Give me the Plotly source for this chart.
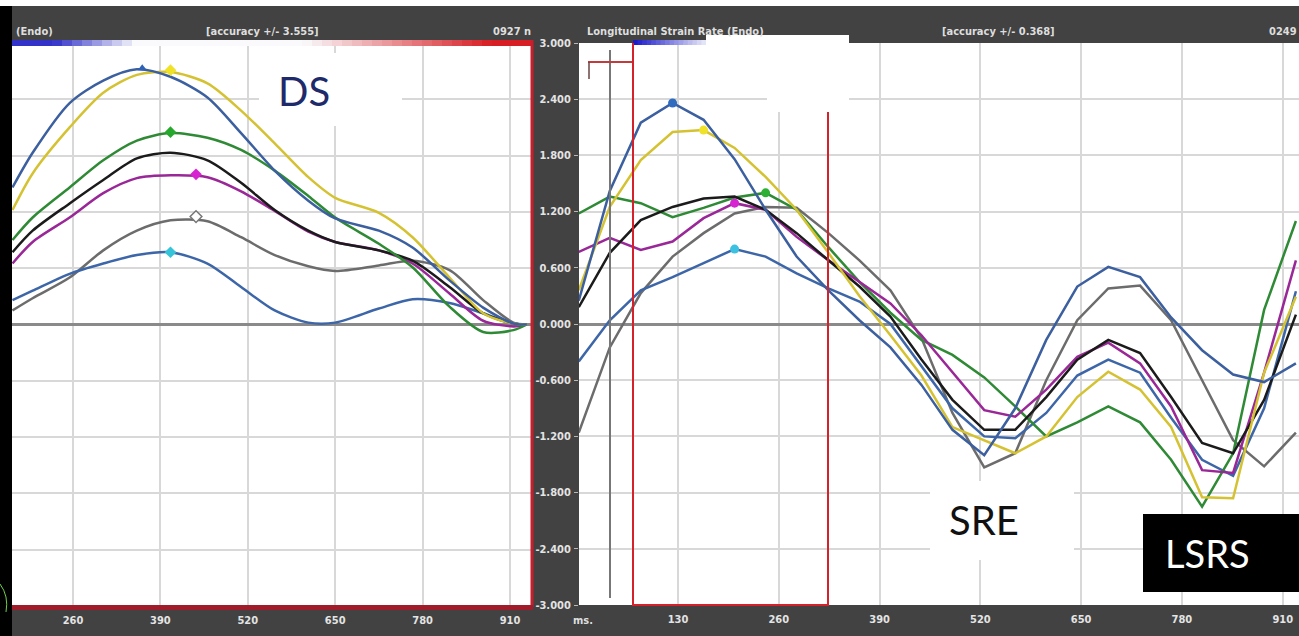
import plotly.graph_objects as go

# ---------------- data ----------------
# Left panel (DS, strain) - time in ms
T_L = [170, 200, 255, 305, 355, 405, 460, 510, 560, 610, 650, 715, 765, 820, 870, 915, 935]
DS_BLUE_TOP = [1.46, 1.83, 2.36, 2.60, 2.72, 2.64, 2.42, 2.04, 1.64, 1.32, 1.13, 1.00, 0.82, 0.47, 0.18, 0.01, 0.0]
DS_YELLOW = [1.22, 1.61, 2.10, 2.47, 2.66, 2.69, 2.57, 2.28, 1.93, 1.57, 1.35, 1.19, 0.93, 0.50, 0.12, 0.01, 0.0]
DS_GREEN = [0.90, 1.14, 1.46, 1.75, 1.96, 2.04, 1.99, 1.86, 1.64, 1.37, 1.14, 0.86, 0.61, 0.19, -0.08, -0.06, 0.0]
DS_BLACK = [0.77, 1.00, 1.29, 1.54, 1.77, 1.83, 1.75, 1.51, 1.22, 1.00, 0.88, 0.79, 0.68, 0.40, 0.12, 0.01, 0.0]
DS_MAGENTA = [0.65, 0.88, 1.14, 1.40, 1.56, 1.59, 1.57, 1.42, 1.21, 0.99, 0.88, 0.79, 0.65, 0.33, 0.04, -0.02, 0.0]
DS_GRAY = [0.15, 0.28, 0.50, 0.79, 1.00, 1.11, 1.10, 0.93, 0.74, 0.62, 0.57, 0.63, 0.68, 0.58, 0.26, 0.02, 0.0]
DS_BLUE_LOW = [0.26, 0.36, 0.54, 0.65, 0.74, 0.77, 0.65, 0.40, 0.15, 0.02, 0.02, 0.17, 0.27, 0.23, 0.12, 0.01, 0.0]
# Left peak markers (time, value)
DS_PEAKS = {
    "blue": (363, 2.73), "yellow": (405, 2.71), "green": (405, 2.05),
    "magenta": (443, 1.60), "gray": (443, 1.15), "cyan": (405, 0.77),
}

# Right panel (Longitudinal strain rate) - time in ms
T_R = [2, 42, 82, 123, 163, 203, 243, 283, 324, 364, 404, 444, 484, 525, 565, 605,
       645, 685, 726, 766, 806, 846, 886, 927]
SR_BLUE_TOP = [0.25, 1.42, 2.15, 2.36, 2.18, 1.76, 1.22, 0.72, 0.36, 0.04, -0.25, -0.65, -1.13, -1.40,
               -0.90, -0.17, 0.40, 0.61, 0.50, 0.07, -0.28, -0.54, -0.62, -0.42]
SR_YELLOW = [0.36, 1.25, 1.75, 2.05, 2.07, 1.88, 1.57, 1.22, 0.76, 0.30, -0.12, -0.55, -1.10, -1.24,
             -1.38, -1.20, -0.78, -0.51, -0.70, -1.10, -1.85, -1.86, -0.52, 0.29]
SR_GREEN = [1.18, 1.36, 1.29, 1.14, 1.24, 1.35, 1.40, 1.22, 0.82, 0.45, 0.12, -0.17, -0.33, -0.57,
            -0.88, -1.20, -1.05, -0.88, -1.05, -1.45, -1.95, -1.38, 0.15, 1.10]
SR_BLACK = [0.18, 0.76, 1.11, 1.25, 1.34, 1.36, 1.22, 0.97, 0.68, 0.40, 0.08, -0.38, -0.81, -1.13,
            -1.13, -0.78, -0.38, -0.17, -0.31, -0.78, -1.27, -1.38, -0.81, 0.10]
SR_MAGENTA = [0.77, 0.92, 0.79, 0.88, 1.13, 1.29, 1.22, 0.93, 0.68, 0.45, 0.22, -0.12, -0.52, -0.92,
              -0.99, -0.70, -0.35, -0.20, -0.42, -0.88, -1.56, -1.59, -0.52, 0.68]
SR_GRAY = [-1.16, -0.25, 0.33, 0.72, 0.97, 1.18, 1.25, 1.24, 0.97, 0.68, 0.36, -0.15, -0.95, -1.53,
           -1.38, -0.60, 0.04, 0.38, 0.41, 0.04, -0.60, -1.24, -1.52, -1.16]
SR_BLUE_LOW = [-0.40, 0.04, 0.36, 0.50, 0.65, 0.80, 0.72, 0.54, 0.38, 0.24, 0.00, -0.45, -0.90, -1.20,
               -1.22, -0.95, -0.55, -0.38, -0.52, -1.00, -1.45, -1.62, -0.90, 0.35]
SR_PEAKS = {
    "blue": (123, 2.36), "yellow": (163, 2.07), "magenta": (203, 1.29),
    "cyan": (203, 0.80), "green": (243, 1.40),
}

LEFT_XTICKS = [260, 390, 520, 650, 780, 910]
RIGHT_XTICKS = [130, 260, 390, 520, 650, 780, 910]
Y_TICKS = [3.0, 2.4, 1.8, 1.2, 0.6, 0.0, -0.6, -1.2, -1.8, -2.4, -3.0]
Y_TICKTEXT = ["3.000", "2.400", "1.800", "1.200", "0.600", "0.000",
              "-0.600", "-1.200", "-1.800", "-2.400", "-3.000"]

# ---------------- layout helpers ----------------
W, H = 1299, 636
def X(px):
    return px / W
def Y(py):
    return 1 - py / H

C_BLUE = "#3b5f9f"
C_BLUE2 = "#3d66a8"
C_YELLOW = "#d5c232"
C_GREEN = "#2e8a34"
C_BLACK = "#1b1b1b"
C_MAGENTA = "#9a2797"
C_GRAY = "#6c6c6c"

fig = go.Figure()

left_series = [
    (DS_GRAY, C_GRAY), (DS_BLUE_LOW, C_BLUE2), (DS_MAGENTA, C_MAGENTA),
    (DS_BLACK, C_BLACK), (DS_GREEN, C_GREEN), (DS_YELLOW, C_YELLOW), (DS_BLUE_TOP, C_BLUE),
]
for vals, col in left_series:
    fig.add_trace(go.Scatter(x=T_L, y=vals, mode="lines", xaxis="x", yaxis="y",
                             line=dict(color=col, width=2.5, shape="spline", smoothing=0.8),
                             hoverinfo="skip", showlegend=False))

left_marker_style = {
    "blue": dict(symbol="triangle-up", color="#2f62b5", size=8, line=dict(width=0)),
    "yellow": dict(symbol="diamond", color="#f0e226", size=9, line=dict(width=0)),
    "green": dict(symbol="diamond", color="#26a82c", size=9, line=dict(width=0)),
    "magenta": dict(symbol="diamond", color="#d625d0", size=9, line=dict(width=0)),
    "gray": dict(symbol="diamond", color="#ffffff", size=9, line=dict(width=1.5, color="#777777")),
    "cyan": dict(symbol="diamond", color="#35c4d8", size=9, line=dict(width=0)),
}
for k, (t, v) in DS_PEAKS.items():
    fig.add_trace(go.Scatter(x=[t], y=[v], mode="markers", xaxis="x", yaxis="y",
                             marker=left_marker_style[k], hoverinfo="skip", showlegend=False))

right_series = [
    (SR_GRAY, C_GRAY), (SR_BLUE_LOW, C_BLUE2), (SR_GREEN, C_GREEN), (SR_MAGENTA, C_MAGENTA),
    (SR_BLACK, C_BLACK), (SR_YELLOW, C_YELLOW), (SR_BLUE_TOP, C_BLUE),
]
for vals, col in right_series:
    fig.add_trace(go.Scatter(x=T_R, y=vals, mode="lines", xaxis="x2", yaxis="y2",
                             line=dict(color=col, width=2.5),
                             hoverinfo="skip", showlegend=False))

right_marker_col = {"blue": "#2f6cc0", "yellow": "#eee22a", "magenta": "#d624d2",
                    "cyan": "#3cc2e0", "green": "#2eb034"}
for k, (t, v) in SR_PEAKS.items():
    fig.add_trace(go.Scatter(x=[t], y=[v], mode="markers", xaxis="x2", yaxis="y2",
                             marker=dict(symbol="circle", size=9, color=right_marker_col[k]),
                             hoverinfo="skip", showlegend=False))

# ---------------- axes ----------------
FONT_N = "Liberation Sans Narrow, DejaVu Sans Condensed, Arial Narrow, sans-serif"
tickfont = dict(family=FONT_N, size=11, color="#e4e4e4", weight="bold")
grid = dict(showgrid=True, gridcolor="#d8d8d8", gridwidth=2)

fig.update_layout(
    width=W, height=H, autosize=False,
    margin=dict(l=0, r=0, t=0, b=0, pad=0, autoexpand=False),
    paper_bgcolor="#424242", plot_bgcolor="#ffffff",
    xaxis=dict(domain=[X(12), X(532)], range=[169.3, 942.7], anchor="y",
               tickmode="array", tickvals=LEFT_XTICKS, ticks="", tickfont=tickfont,
               ticklabelstandoff=6, zeroline=False, showline=False, automargin=False, **grid),
    yaxis=dict(domain=[Y(606), Y(43)], range=[-3, 3], anchor="x",
               tickmode="array", tickvals=Y_TICKS, showticklabels=False, ticks="",
               zeroline=True, zerolinecolor="#8a8a8a", zerolinewidth=2.5, showline=False,
               automargin=False, **grid),
    xaxis2=dict(domain=[X(579), 1.0], range=[2.3, 931], anchor="y2",
                tickmode="array", tickvals=RIGHT_XTICKS, ticks="", tickfont=tickfont,
                ticklabelstandoff=6, zeroline=False, showline=False, automargin=False, **grid),
    yaxis2=dict(domain=[Y(605), Y(43)], range=[-3, 3], anchor="x2",
                tickmode="array", tickvals=Y_TICKS, ticktext=Y_TICKTEXT,
                ticks="outside", ticklen=4, tickcolor="#b8b8b8", tickwidth=1,
                tickfont=tickfont, ticklabelstandoff=1, automargin=False,
                zeroline=True, zerolinecolor="#8a8a8a", zerolinewidth=2.5, showline=False, **grid),
)

# ---------------- decoration shapes ----------------
shapes = []
def rect(x0, y0, x1, y1, fill, layer="above"):
    shapes.append(dict(type="rect", xref="paper", yref="paper", x0=X(x0), x1=X(x1),
                       y0=Y(y1), y1=Y(y0), fillcolor=fill, line=dict(width=0), layer=layer))
def line(x0, y0, x1, y1, color, width):
    shapes.append(dict(type="line", xref="paper", yref="paper", x0=X(x0), x1=X(x1),
                       y0=Y(y0), y1=Y(y1), line=dict(color=color, width=width), layer="above"))

def mix(c1, c2, t):
    return "rgb(%d,%d,%d)" % tuple(round(a + (b - a) * t) for a, b in zip(c1, c2))

# top white strip and left black strip
rect(0, 0, W, 6, "#ffffff")
rect(0, 6, 12, H, "#000000")
shapes.append(dict(type="path", xref="paper", yref="paper",
                   path="M %f,%f Q %f,%f %f,%f" % (X(0), Y(584), X(9), Y(596), X(6), Y(612)),
                   line=dict(color="#6fd04a", width=1), layer="above"))

# left gradient bar (blue -> white -> red)
blue, white, red = (50, 50, 200), (250, 250, 252), (214, 30, 36)
n = 52
for i in range(n):
    x0 = 12 + (532 - 12) * i / n
    x1 = 12 + (532 - 12) * (i + 1) / n + 0.6
    t = (i + 0.5) / n
    if t < 0.08:
        c = mix(blue, blue, 0)
    elif t < 0.24:
        c = mix(blue, white, (t - 0.08) / 0.16)
    elif t < 0.56:
        c = mix(white, white, 0)
    else:
        c = mix(white, red, min(1.0, (t - 0.56) / 0.36))
    rect(x0, 40, x1, 46, c)

# left panel red border
line(532, 40, 532, 607, "#c81e2c", 3)
rect(12, 605, 533, 610, "#a01c2a")

# right gradient bar (blue -> white)
n2 = 16
for i in range(n2):
    x0 = 633 + (706 - 633) * i / n2
    x1 = 633 + (706 - 633) * (i + 1) / n2 + 0.6
    rect(x0, 40, x1, 45, mix((20, 20, 200), (235, 235, 250), (i + 0.5) / n2))

# right panel markers (event lines)
line(610, 50, 610, 598, "#777777", 2)
line(588, 62, 633, 62, "#c23a3a", 2)
line(589, 62, 589, 79, "#6a4545", 1.5)
line(633, 43, 633, 606, "#d3222c", 2)
line(828, 110, 828, 606, "#d3222c", 2)
line(633, 605, 828, 605, "#d3222c", 2)

# pasted label boxes
rect(259, 53, 402, 126, "#ffffff")
rect(706, 35, 849, 96, "#ffffff")
rect(767, 35, 849, 112, "#ffffff")
rect(930, 481, 1074, 560, "#ffffff")
rect(1143, 514, W, 592, "#000000")

fig.update_layout(shapes=shapes)

# ---------------- text ----------------
hdr = dict(family=FONT_N, size=11, color="#dedede", weight="bold")
ann = []
def text(px, py, s, font, xanchor="center", yanchor="middle"):
    ann.append(dict(xref="paper", yref="paper", x=X(px), y=Y(py), text=s, showarrow=False,
                    font=font, xanchor=xanchor, yanchor=yanchor))

text(14, 31, "(Endo)", hdr, xanchor="left")
text(262, 31, "[accuracy +/- 3.555]", hdr)
text(533, 31, "0927 n", hdr, xanchor="right")
text(585, 32, "Longitudinal Strain Rate (Endo)", hdr, xanchor="left")
text(998, 32, "[accuracy +/- 0.368]", hdr)
text(1299, 32, "0249", hdr, xanchor="right")
text(583, 620, "ms.", dict(family=FONT_N, size=11, color="#dedede", weight="bold"))

LBL = "Lato, Open Sans, sans-serif"
text(304, 91, "DS", dict(family=LBL, size=40, color="#1e2a6a"))
text(984, 520, "SRE", dict(family=LBL, size=40, color="#111111"))
text(1207, 553, "LSRS", dict(family=LBL, size=38, color="#ffffff"))

fig.update_layout(annotations=ann)

fig.write_html("out.html")
